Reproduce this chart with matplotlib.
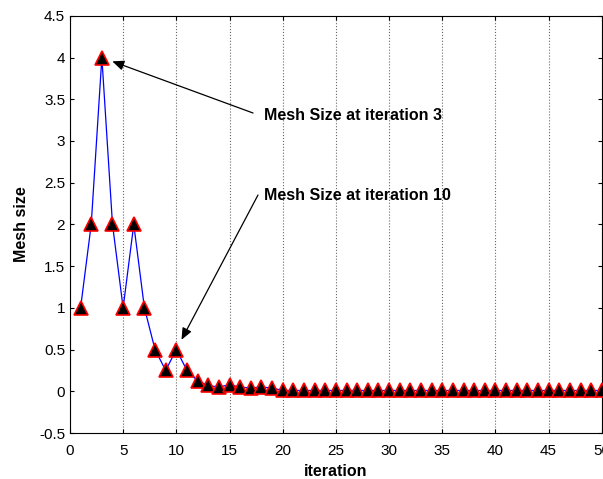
import matplotlib.pyplot as plt
import numpy as np

plt.rcParams['font.family'] = ['Liberation Sans', 'DejaVu Sans']

# iteration vs mesh size
iteration = np.arange(1, 51)
mesh_size = [1, 2, 4, 2, 1, 2, 1, 0.5, 0.25, 0.5,
             0.25, 0.125, 0.07, 0.05, 0.08, 0.05, 0.04, 0.05, 0.04, 0.01] + [0.01] * 30

H = 479  # figure height in px, used to place annotations from the top

fig = plt.figure(figsize=(6.03, 4.79), dpi=100)
ax = fig.add_axes([0.116, 0.096, 0.882, 0.871])

ax.plot(iteration, mesh_size, '-', color='blue', linewidth=0.9, zorder=3)
ax.plot(iteration, mesh_size, '^', markerfacecolor='black', markeredgecolor='red',
        markeredgewidth=1.2, markersize=10, linestyle='none', zorder=4)

ax.set_xlim(0, 50)
ax.set_ylim(-0.5, 4.5)
ax.set_xticks(np.arange(0, 51, 5))
ax.set_yticks(np.arange(-0.5, 4.51, 0.5))
ax.set_yticklabels(['-0.5', '0', '0.5', '1', '1.5', '2', '2.5', '3', '3.5', '4', '4.5'])
ax.tick_params(direction='in', labelsize=11, top=True, right=True, length=3)
ax.tick_params(axis='x', pad=8)
ax.grid(axis='x', linestyle=':', color='dimgray', linewidth=0.8)

ax.set_xlabel('iteration', fontsize=11.5, fontweight='bold', labelpad=4)
ax.set_ylabel('Mesh size', fontsize=11.5, fontweight='bold', labelpad=7)

arrow = dict(arrowstyle='-|>,head_length=0.7,head_width=0.3', color='black',
             lw=0.9, shrinkA=0, shrinkB=8)
ax.annotate('', xy=(3, 4), xytext=(253, H - 113), textcoords='figure pixels', arrowprops=arrow)
ax.annotate('', xy=(10, 0.5), xytext=(258, H - 195), textcoords='figure pixels', arrowprops=arrow)
fig.text(264, H - 116, 'Mesh Size at iteration 3', transform=None,
         fontsize=11.5, fontweight='bold', ha='left', va='center')
fig.text(264, H - 196, 'Mesh Size at iteration 10', transform=None,
         fontsize=11.5, fontweight='bold', ha='left', va='center')

fig.savefig('out.png', dpi=100)
